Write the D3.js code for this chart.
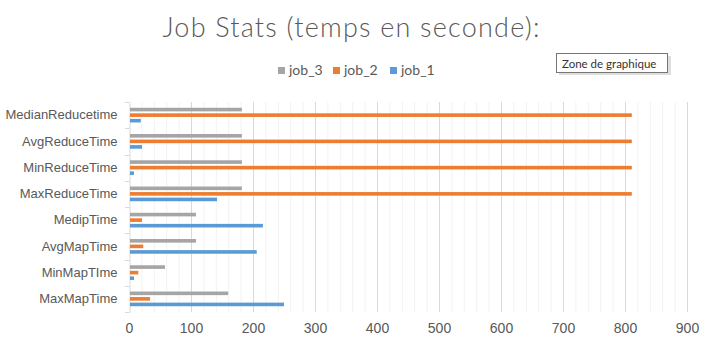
<!DOCTYPE html>
<html>
<head>
<meta charset="utf-8">
<script src="https://cdn.jsdelivr.net/npm/d3@7"></script>
<style>
  html, body { margin: 0; padding: 0; background: #fff; }
  svg { display: block; font-family: Lato, "Open Sans", sans-serif; }
</style>
</head>
<body>
<svg id="chart" width="706" height="344"></svg>
<script>
// Job statistics (seconds), one row per metric
const categories = [
  "MedianReducetime", "AvgReduceTime", "MinReduceTime", "MaxReduceTime",
  "MedipTime", "AvgMapTime", "MinMapTIme", "MaxMapTime"
];
const seriesNames = ["job_3", "job_2", "job_1"];
const job_3 = [182, 182, 182, 182, 108, 108, 58, 160];
const job_2 = [811, 811, 811, 811, 21, 23, 15, 34];
const job_1 = [19, 21, 8, 142, 216, 206, 8, 250];
const xTicks = [0, 100, 200, 300, 400, 500, 600, 700, 800, 900];
const colors = { job_3: "#a5a5a5", job_2: "#ed7d31", job_1: "#5b9bd5" };
const values = { job_3, job_2, job_1 };

const svg = d3.select("#chart");
const textColor = "#595959";

const margin = { left: 129, right: 19, top: 102, bottom: 32 };
const W = 706, H = 344;

const x = d3.scaleLinear().domain([0, 900]).range([margin.left, W - margin.right]);
const y = d3.scaleBand().domain(categories).range([margin.top, H - margin.bottom]).padding(0);
const groupH = y.bandwidth() * 0.56;
const ySub = d3.scaleBand().domain(seriesNames).range([0, groupH]).paddingInner(0.35);

// Minor gridlines every 20
const minor = d3.range(20, 901, 20).filter(v => v % 100 !== 0);
svg.append("g").selectAll("line").data(minor).join("line")
  .attr("x1", d => x(d) + 0.5).attr("x2", d => x(d) + 0.5)
  .attr("y1", margin.top).attr("y2", H - margin.bottom)
  .attr("stroke", "#f2f2f2").attr("stroke-width", 1);

// Major gridlines
svg.append("g").selectAll("line").data(xTicks.slice(1)).join("line")
  .attr("x1", d => x(d) + 0.5).attr("x2", d => x(d) + 0.5)
  .attr("y1", margin.top).attr("y2", H - margin.bottom)
  .attr("stroke", "#d9d9d9").attr("stroke-width", 1);

// Category axis
const yAxis = svg.append("g").attr("transform", `translate(${margin.left + 0.5},0)`)
  .call(d3.axisLeft(y).tickSize(0).tickPadding(12));
yAxis.select(".domain").attr("stroke", "#d9d9d9");
yAxis.selectAll("text").attr("fill", textColor).attr("font-size", 13);

// Tick marks between categories
const bounds = d3.range(categories.length + 1).map(i => margin.top + i * y.step());
svg.append("g").selectAll("line").data(bounds).join("line")
  .attr("x1", margin.left - 4).attr("x2", margin.left + 0.5)
  .attr("y1", d => Math.round(d) + 0.5).attr("y2", d => Math.round(d) + 0.5)
  .attr("stroke", "#d9d9d9");

// Value axis labels
const xAxis = svg.append("g").attr("transform", `translate(0,${H - margin.bottom})`)
  .call(d3.axisBottom(x).tickValues(xTicks).tickSize(0).tickPadding(11));
xAxis.select(".domain").remove();
xAxis.selectAll("text").attr("fill", textColor).attr("font-size", 14);

// Bars
seriesNames.forEach(s => {
  svg.append("g").selectAll("rect").data(categories).join("rect")
    .attr("x", x(0) + 1)
    .attr("y", (c) => y(c) + (y.bandwidth() - groupH) / 2 + ySub(s))
    .attr("width", (c, i) => x(values[s][i]) - x(0) - 1)
    .attr("height", ySub.bandwidth())
    .attr("fill", colors[s]);
});

// Title
svg.append("text").attr("x", 351).attr("y", 37).attr("text-anchor", "middle")
  .attr("font-size", 27).attr("font-weight", 300).attr("fill", textColor)
  .attr("textLength", 377).attr("lengthAdjust", "spacing")
  .text("Job Stats (temps en seconde):");

// Legend
const legendX = [278, 333, 390];
const lg = svg.append("g");
seriesNames.forEach((s, i) => {
  lg.append("rect").attr("x", legendX[i]).attr("y", 67).attr("width", 7).attr("height", 7).attr("fill", colors[s]);
  lg.append("text").attr("x", legendX[i] + 11).attr("y", 75).attr("font-size", 14).attr("fill", textColor).text(s);
});

// Hover tooltip box
const tip = svg.append("g");
tip.append("rect").attr("x", 559).attr("y", 56).attr("width", 112).attr("height", 19).attr("fill", "#c8c8c8").attr("opacity", 0.6);
tip.append("rect").attr("x", 556.5).attr("y", 53.5).attr("width", 111).attr("height", 19).attr("fill", "#fff").attr("stroke", "#767676");
tip.append("text").attr("x", 562).attr("y", 67.5).attr("font-size", 11.5).attr("fill", "#333").text("Zone de graphique");
</script>
</body>
</html>
